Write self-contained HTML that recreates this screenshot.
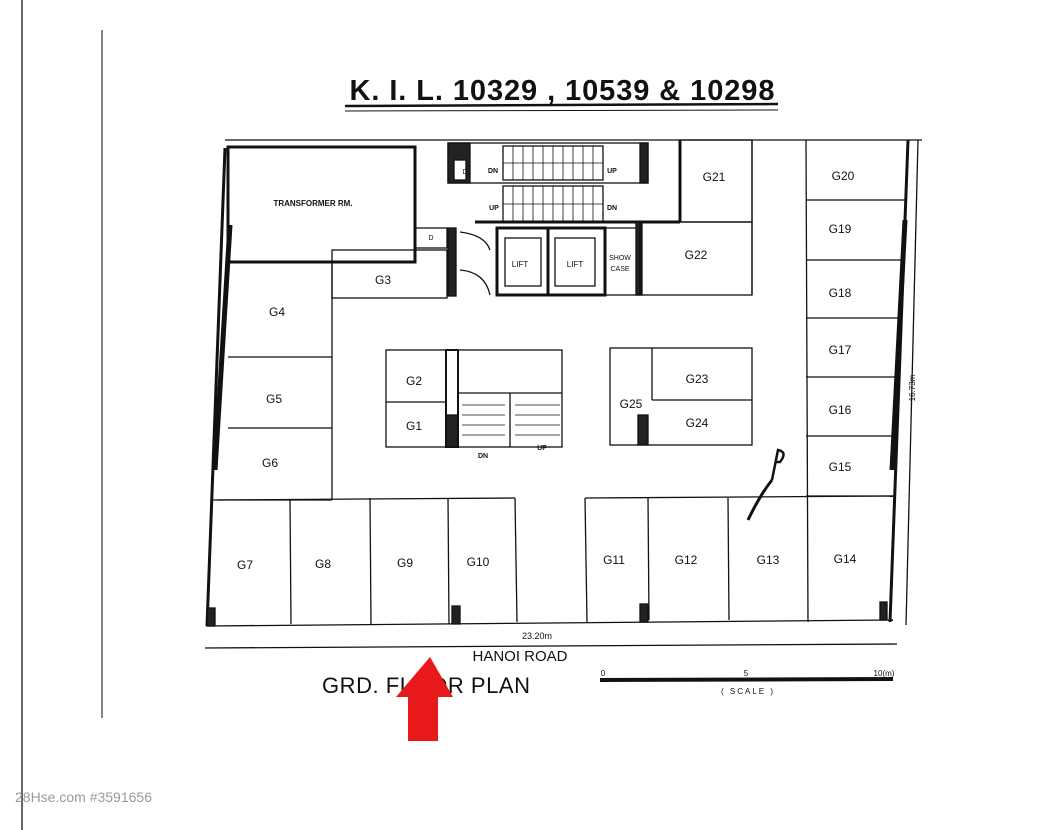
<!DOCTYPE html>
<html><head><style>
html,body{margin:0;padding:0;background:#fff;}
svg{display:block;}
text{font-family:"Liberation Sans",sans-serif;fill:#111;}
</style></head><body>
<svg width="1044" height="830" viewBox="0 0 1044 830" xmlns="http://www.w3.org/2000/svg">
<rect width="1044" height="830" fill="#fff"/>
<line x1="22" y1="0" x2="22" y2="830" stroke="#333" stroke-width="1.5"/>
<line x1="102" y1="30" x2="102" y2="718" stroke="#333" stroke-width="1.2"/>
<text x="562" y="100" font-size="29" text-anchor="middle" textLength="425" font-weight="bold">K. I. L. 10329 , 10539 &amp; 10298</text>
<line x1="345" y1="106" x2="778" y2="104" stroke="#111" stroke-width="2.5"/>
<line x1="345" y1="111" x2="778" y2="110" stroke="#111" stroke-width="1"/>
<g stroke="#111" fill="none" stroke-width="1.3">
<line x1="225" y1="140" x2="922" y2="140"/>
<line x1="225" y1="148" x2="207" y2="626" stroke-width="3"/>
<line x1="908" y1="140" x2="890" y2="622" stroke-width="3"/>
<line x1="918" y1="140" x2="906" y2="625"/>
<rect x="228" y="147" width="187" height="115" stroke-width="3"/>
<rect x="415" y="228" width="32" height="20"/>
<line x1="228" y1="262" x2="332" y2="262"/>
<line x1="332" y1="262" x2="332" y2="500"/>
<line x1="228" y1="357" x2="332" y2="357"/>
<line x1="228" y1="428" x2="332" y2="428"/>
<line x1="218" y1="500" x2="332" y2="500"/>
<rect x="332" y="250" width="115" height="48"/>
<rect x="448" y="143" width="200" height="40"/>
<rect x="448" y="143" width="22" height="40" fill="#222"/>
<rect x="454" y="160" width="12" height="20" fill="#fff"/>
<rect x="640" y="143" width="8" height="40" fill="#222"/>
<rect x="503" y="146" width="100" height="34"/>
<rect x="503" y="186" width="100" height="36"/>
<g stroke-width="0.8">
<line x1="513" y1="146" x2="513" y2="180"/><line x1="523" y1="146" x2="523" y2="180"/><line x1="533" y1="146" x2="533" y2="180"/><line x1="543" y1="146" x2="543" y2="180"/><line x1="553" y1="146" x2="553" y2="180"/><line x1="563" y1="146" x2="563" y2="180"/><line x1="573" y1="146" x2="573" y2="180"/><line x1="583" y1="146" x2="583" y2="180"/><line x1="593" y1="146" x2="593" y2="180"/>
<line x1="513" y1="186" x2="513" y2="222"/><line x1="523" y1="186" x2="523" y2="222"/><line x1="533" y1="186" x2="533" y2="222"/><line x1="543" y1="186" x2="543" y2="222"/><line x1="553" y1="186" x2="553" y2="222"/><line x1="563" y1="186" x2="563" y2="222"/><line x1="573" y1="186" x2="573" y2="222"/><line x1="583" y1="186" x2="583" y2="222"/><line x1="593" y1="186" x2="593" y2="222"/>
<line x1="503" y1="163" x2="603" y2="163"/><line x1="503" y1="204" x2="603" y2="204"/>
</g>
<line x1="475" y1="222" x2="680" y2="222" stroke-width="3"/>
<line x1="680" y1="140" x2="680" y2="222" stroke-width="3"/>
<rect x="680" y="140" width="72" height="82"/>
<rect x="497" y="228" width="51" height="67" stroke-width="3"/>
<rect x="548" y="228" width="57" height="67" stroke-width="3"/>
<rect x="505" y="238" width="36" height="48"/>
<rect x="555" y="238" width="40" height="48"/>
<rect x="605" y="228" width="35" height="67"/>
<rect x="636" y="222" width="6" height="73" fill="#222"/>
<rect x="640" y="222" width="112" height="73"/>
<rect x="448" y="228" width="8" height="68" fill="#222"/>
<path d="M460 232 Q485 235 490 250 M460 270 Q485 272 490 295"/>
<line x1="752" y1="140" x2="752" y2="295"/>
<line x1="806" y1="140" x2="808" y2="622"/>
<line x1="806" y1="200" x2="906" y2="200"/>
<line x1="806" y1="260" x2="904" y2="260"/>
<line x1="806" y1="318" x2="902" y2="318"/>
<line x1="806" y1="377" x2="900" y2="377"/>
<line x1="806" y1="436" x2="898" y2="436"/>
<line x1="806" y1="496" x2="895" y2="496"/>
<rect x="386" y="350" width="176" height="97"/>
<line x1="386" y1="402" x2="446" y2="402"/>
<rect x="446" y="350" width="12" height="97" stroke-width="2"/>
<rect x="446" y="415" width="12" height="32" fill="#222"/>
<line x1="458" y1="393" x2="562" y2="393"/>
<line x1="510" y1="393" x2="510" y2="447"/>
<g stroke-width="0.7"><line x1="462" y1="405" x2="505" y2="405"/><line x1="462" y1="415" x2="505" y2="415"/><line x1="462" y1="425" x2="505" y2="425"/><line x1="462" y1="435" x2="505" y2="435"/>
<line x1="515" y1="405" x2="560" y2="405"/><line x1="515" y1="415" x2="560" y2="415"/><line x1="515" y1="425" x2="560" y2="425"/><line x1="515" y1="435" x2="560" y2="435"/></g>
<rect x="610" y="348" width="142" height="97"/>
<line x1="652" y1="348" x2="652" y2="400"/>
<line x1="652" y1="400" x2="752" y2="400"/>
<rect x="638" y="415" width="10" height="30" fill="#222"/>
<line x1="212" y1="500" x2="515" y2="498"/>
<line x1="585" y1="498" x2="893" y2="496"/>
<line x1="207" y1="626" x2="893" y2="620"/>
<line x1="290" y1="500" x2="291" y2="624"/>
<line x1="370" y1="498" x2="371" y2="624"/>
<line x1="448" y1="498" x2="449" y2="624"/>
<line x1="515" y1="498" x2="517" y2="622"/>
<line x1="585" y1="498" x2="587" y2="622"/>
<line x1="648" y1="498" x2="649" y2="620"/>
<line x1="728" y1="498" x2="729" y2="620"/>
<rect x="207" y="608" width="8" height="18" fill="#222"/>
<rect x="452" y="606" width="8" height="18" fill="#222"/>
<rect x="640" y="604" width="8" height="18" fill="#222"/>
<rect x="880" y="602" width="7" height="18" fill="#222"/>
<line x1="230" y1="225" x2="215" y2="470" stroke-width="5"/>
<line x1="905" y1="220" x2="892" y2="470" stroke-width="5"/>
<path d="M748 520 Q760 495 772 480" stroke-width="3"/>
<path d="M772 480 L778 450 Q788 452 780 462 L775 462" stroke-width="2.5"/>
<line x1="205" y1="648" x2="897" y2="644"/>
<line x1="600" y1="680" x2="893" y2="679" stroke-width="4"/>
</g>
<g font-size="12" text-anchor="middle">
<text x="313" y="206" font-size="8" font-weight="bold">TRANSFORMER  RM.</text>
<text x="431" y="240" font-size="7">D</text>
<text x="465" y="174" font-size="7">D</text>
<text x="493" y="173" font-size="7" font-weight="bold">DN</text>
<text x="612" y="173" font-size="7" font-weight="bold">UP</text>
<text x="494" y="210" font-size="7" font-weight="bold">UP</text>
<text x="612" y="210" font-size="7" font-weight="bold">DN</text>
<text x="520" y="267" font-size="8">LIFT</text>
<text x="575" y="267" font-size="8">LIFT</text>
<text x="620" y="260" font-size="7">SHOW</text>
<text x="620" y="271" font-size="7">CASE</text>
<text x="714" y="181">G21</text><text x="843" y="180">G20</text>
<text x="696" y="259">G22</text><text x="840" y="233">G19</text>
<text x="383" y="284">G3</text><text x="840" y="297">G18</text>
<text x="277" y="316">G4</text><text x="840" y="354">G17</text>
<text x="274" y="403">G5</text><text x="840" y="414">G16</text>
<text x="270" y="467">G6</text><text x="840" y="471">G15</text>
<text x="414" y="385">G2</text><text x="414" y="430">G1</text>
<text x="697" y="383">G23</text><text x="697" y="427">G24</text>
<text x="631" y="408">G25</text>
<text x="483" y="458" font-size="7" font-weight="bold">DN</text>
<text x="542" y="450" font-size="7" font-weight="bold">UP</text>
<text x="245" y="569">G7</text><text x="323" y="568">G8</text><text x="405" y="567">G9</text>
<text x="478" y="566">G10</text><text x="614" y="564">G11</text><text x="686" y="564">G12</text>
<text x="768" y="564">G13</text><text x="845" y="563">G14</text>
<text x="537" y="639" font-size="9">23.20m</text>
<text x="520" y="661" font-size="15">HANOI ROAD</text>
<text x="603" y="676" font-size="8">0</text>
<text x="746" y="676" font-size="8">5</text>
<text x="884" y="676" font-size="8">10(m)</text>
<text x="748" y="694" font-size="8" letter-spacing="2">( SCALE )</text>
<text x="915" y="388" font-size="8" transform="rotate(-90 915 388)">16.73m</text>
</g>
<text x="322" y="693" font-size="22" textLength="208">GRD. FLOOR PLAN</text>
<polygon points="430,657 453,697 438,697 438,741 408,741 408,697 396,697" fill="#e8191a"/>
<text x="15" y="802" font-size="14" style="fill:#999">28Hse.com #3591656</text>
</svg>
</body></html>
